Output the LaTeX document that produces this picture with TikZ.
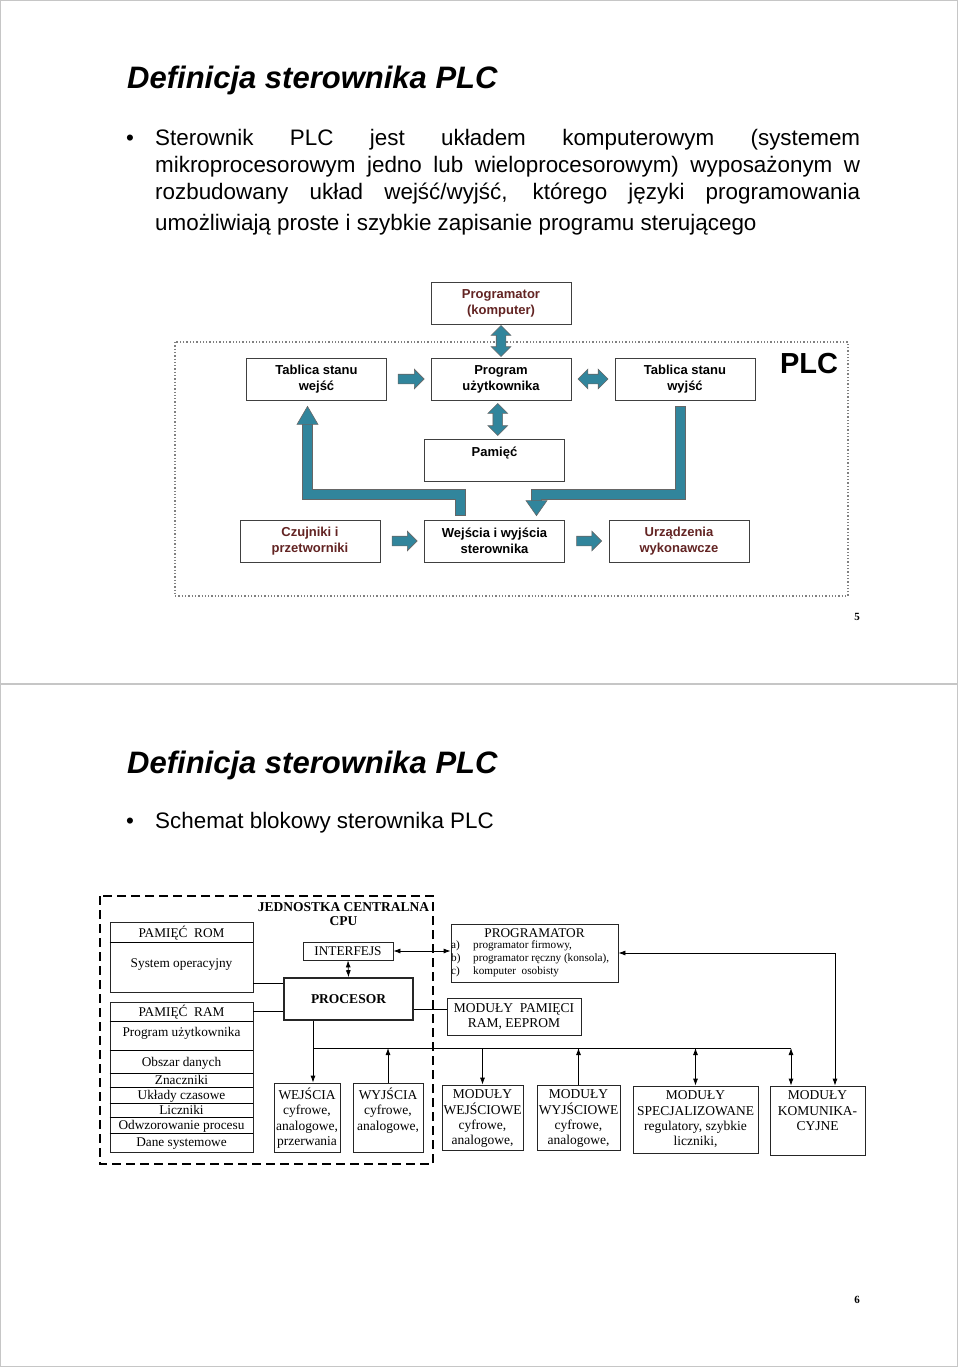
\documentclass[tikz,border=0pt]{standalone}
\usepackage{fontspec}
\setmainfont{Liberation Serif}
\setsansfont{Liberation Sans}
\usetikzlibrary{arrows.meta}
\usetikzlibrary{shapes.arrows}
\usetikzlibrary{calc}
\definecolor{morski}{HTML}{31859C}
\definecolor{bordo}{HTML}{632423}
\tikzset{>={Latex[length=7pt,width=5pt]}}
\tikzset{
  blok/.style={draw=black!75, line width=0.8pt, fill=white, minimum width=140pt, minimum height=42pt,
    align=center, inner sep=1pt, font=\sffamily\bfseries\fontsize{13}{16}\selectfont},
  strz/.style={single arrow, draw=black!60, line width=0.6pt, fill=morski, inner sep=4.5pt,
    single arrow head extend=5pt, minimum height=26pt},
  dstrz/.style={double arrow, draw=black!60, line width=0.6pt, fill=morski, inner sep=4.5pt,
    double arrow head extend=5pt, minimum height=31pt},
  pasek/.style={draw=black!60, double=morski, double distance=9.8pt, line width=0.6pt, line cap=rect},
  grot/.style={fill=morski, draw=black!60, line width=0.6pt},
  modul/.style={draw=black!85, line width=0.8pt, fill=white, inner sep=0pt},
  napis/.style={align=center, inner sep=2pt, font=\fontsize{13.5}{15.4}\selectfont},
  wiersz/.style={inner sep=0pt, text height=8.8pt, text depth=0pt, font=\fontsize{13.3}{15.4}\selectfont},
  male/.style={inner sep=0pt, font=\fontsize{11.2}{13}\selectfont},
  tytul/.style={anchor=base west, inner sep=0pt, font=\sffamily\bfseries\itshape\fontsize{31}{36}\selectfont},
  tekst/.style={anchor=base west, inner sep=0pt, font=\sffamily\fontsize{22.4}{27}\selectfont},
}

\begin{document}
\begin{tikzpicture}[x=1pt,y=-1pt]
        \useasboundingbox (0,0) rectangle (960,1367);
        \draw[gray!45] (0.5,0.5) rectangle (957.5,683);
        \draw[gray!45] (0.5,684.5) rectangle (957.5,1366.5);

        % strona 5
        \node[tytul] (t1) at (127,89) {Definicja sterownika PLC};
        \node[tekst, anchor=base] (k1) at (130,146) {\textbullet};
        \node[tekst] (w1) at (155,146) {\makebox[705pt][s]{Sterownik PLC jest układem komputerowym (systemem}};
        \node[tekst] (w2) at (155,173) {\makebox[705pt][s]{mikroprocesorowym jedno lub wieloprocesorowym) wyposażonym w}};
        \node[tekst] (w3) at (155,200) {\makebox[705pt][s]{rozbudowany układ wejść/wyjść, którego języki programowania}};
        \node[tekst] (w4) at (155,230) {umożliwiają proste i szybkie zapisanie programu sterującego};

        \draw[gray, dotted, line width=1.3pt] (175,342) rectangle (848,596);
        \node[blok, text=bordo] (progk) at (501,303) {Programator\\(komputer)};
        \node[blok] (tsw) at (316.5,379) {Tablica stanu\\wejść};
        \node[blok] (prg) at (501,379) {Program\\użytkownika};
        \node[blok] (tsy) at (685,379) {Tablica stanu\\wyjść};
        \node[blok] (pam) at (494.5,460) {Pamięć\\\mbox{}};
        \node[blok, text=bordo] (czu) at (310,541) {Czujniki i\\przetworniki};
        \node[blok] (wio) at (494.5,541) {Wejścia i wyjścia\\sterownika};
        \node[blok, text=bordo] (urz) at (679,541) {Urządzenia\\wykonawcze};
        \node[font=\sffamily\bfseries\fontsize{29}{30}\selectfont] (plc) at (809,364) {PLC};

        \node[dstrz, rotate=90] (a1) at ($(progk.south)!0.5!(prg.north)$) {};
        \node[strz] (a2) at ($(tsw.east)!0.5!(prg.west)$) {};
        \node[dstrz, minimum height=30pt] (a3) at ($(prg.east)!0.5!(tsy.west)$) {};
        \node[dstrz, rotate=90, minimum height=32pt] (a4) at ($(prg.south)!0.5!(pam.north)$) {};
        \node[strz, minimum height=25pt] (a5) at ($(czu.east)!0.5!(wio.west)$) {};
        \node[strz, minimum height=25pt] (a6) at ($(wio.east)!0.5!(urz.west)$) {};

        \coordinate (szyna) at (0,494.5);
        \coordinate (lg) at ([xshift=-9pt,yshift=-6pt]tsw.south);
        \coordinate (ld) at ([xshift=-34pt,yshift=4pt]wio.north);
        \coordinate (pg) at ([xshift=-4.5pt,yshift=-6pt]tsy.south);
        \coordinate (pd) at ([xshift=42pt,yshift=4pt]wio.north);
        \draw[pasek] ([yshift=5.5pt]ld) -- (ld |- szyna) -- (lg |- szyna) -- ([yshift=-18pt]lg);
        \filldraw[grot] (lg) -- ([xshift=-10.5pt,yshift=-18pt]lg) -- ([xshift=10.5pt,yshift=-18pt]lg) -- cycle;
        \draw[pasek] ([yshift=-5.5pt]pg) -- (pg |- szyna) -- (pd |- szyna) -- ([yshift=15pt]pd);
        \filldraw[grot] (pd) -- ([xshift=-10.5pt,yshift=15pt]pd) -- ([xshift=10.5pt,yshift=15pt]pd) -- cycle;

        \node[font=\bfseries\fontsize{11}{12}\selectfont] (nr5) at (857,617) {5};

        % strona 6
        \node[tytul] (t2) at (127,773) {Definicja sterownika PLC};
        \node[tekst, anchor=base] (k2) at (130,828) {\textbullet};
        \node[tekst] (w5) at (155,828) {Schemat blokowy sterownika PLC};

        \draw[line width=1.6pt, dash pattern=on 9pt off 5pt] (100,896) rectangle (433,1164);
        \node[align=center, inner sep=0pt, font=\bfseries\fontsize{13.5}{14}\selectfont] (jc) at (343.5,914)
          {JEDNOSTKA CENTRALNA\\CPU};

        \node[modul, minimum width=143pt, minimum height=70pt] (rom) at (181.5,957) {};
        \draw ([yshift=-21pt]rom.north west) -- ([yshift=-21pt]rom.north east);
        \node[wiersz] at ([yshift=-11pt]rom.north) {PAMIĘĆ\ \ ROM};
        \node[wiersz] at (181.5,963) {System operacyjny};

        \node[modul, minimum width=143pt, minimum height=150pt] (ram) at (181.5,1077) {};
        \foreach \y in {1021,1050,1073,1087,1103,1117,1133}
          \draw (ram.west |- 0,\y) -- (ram.east |- 0,\y);
        \foreach \y/\t in {1012/PAMIĘĆ\ \ RAM, 1032/Program użytkownika, 1062.5/Obszar danych, 1080/Znaczniki,
            1095/Układy czasowe, 1110/Liczniki, 1125.5/Odwzorowanie procesu, 1142/Dane systemowe}
          \node[wiersz] at (181.5,\y) {\t};

        \node[modul, wiersz, minimum width=90pt, minimum height=18pt] (int) at (348,951) {INTERFEJS};
        \node[modul, wiersz, line width=1.6pt, minimum width=129pt, minimum height=42pt,
          font=\bfseries\fontsize{13.5}{15.4}\selectfont] (proc) at (348.5,999) {PROCESOR};

        \node[modul, minimum width=167pt, minimum height=58pt] (prgm) at (534.5,953) {};
        \node[wiersz] at (534.5,933) {PROGRAMATOR};
        \foreach \y/\l/\t in {946/a)/{programator firmowy,}, 959/b)/{programator ręczny (konsola),},
            972/c)/{komputer\ \ osobisty}}{
          \node[male, anchor=west] at (451,\y) {\l};
          \node[male, anchor=west] at (473,\y) {\t};
        }
        \node[modul, napis, minimum width=134pt, minimum height=37pt] (mpam) at (514,1016.5)
          {MODUŁY\ \ PAMIĘCI\\RAM, EEPROM};

        \node[modul, minimum width=66pt, minimum height=69pt] (wej) at (307,1117.5) {};
        \node[napis, below=3pt] at (wej.north) {WEJŚCIA\\cyfrowe,\\analogowe,\\przerwania};
        \node[modul, minimum width=70pt, minimum height=69pt] (wyj) at (388,1117.5) {};
        \node[napis, below=3pt] at (wyj.north) {WYJŚCIA\\cyfrowe,\\analogowe,};
        \node[modul, minimum width=81pt, minimum height=65pt] (mwe) at (482.5,1117.5) {};
        \node[napis, below=3pt] at (mwe.north) {MODUŁY\\WEJŚCIOWE\\cyfrowe,\\analogowe,};
        \node[modul, minimum width=83pt, minimum height=65pt] (mwy) at (578.5,1117.5) {};
        \node[napis, below=3pt] at (mwy.north) {MODUŁY\\WYJŚCIOWE\\cyfrowe,\\analogowe,};
        \node[modul, minimum width=125pt, minimum height=67pt] (msp) at (695.5,1119.5) {};
        \node[napis, below=3pt] at (msp.north) {MODUŁY\\SPECJALIZOWANE\\regulatory, szybkie\\liczniki,};
        \node[modul, minimum width=95pt, minimum height=69pt] (mko) at (817.5,1120.5) {};
        \node[napis, below=3pt] at (mko.north) {MODUŁY\\KOMUNIKA-\\CYJNE};

        \coordinate (b1) at (313,1048);
        \coordinate (b2) at (791,1048);
        \begin{scope}[line width=0.8pt]
        \draw ([yshift=9pt]rom.south east) -- ([yshift=9pt]rom.south east -| proc.west);
        \draw ([yshift=-10pt]ram.north east) -- ([yshift=-10pt]ram.north east -| proc.west);
        \draw ([yshift=-10pt]proc.east) -- ([yshift=-10pt]proc.east -| mpam.west);
        \draw[<->] (int.south) -- (proc.north);
        \draw[<->] (int.east) -- (int.east -| prgm.west);
        \draw[<->] (prgm.east) -| ([xshift=17.5pt]mko.north);
        \draw (b1) -- (b2);
        \draw[->] (b1 |- proc.south) -- (b1 |- wej.north);
        \draw[->] (wyj.north) -- (wyj.north |- b1);
        \draw[->] (b1 -| mwe.north) -- (mwe.north);
        \draw[->] (mwy.north) -- (mwy.north |- b1);
        \draw[<->] (b1 -| msp.north) -- (msp.north);
        \draw[<->] (b2) -- (b2 |- mko.north);
        \end{scope}

        \node[font=\bfseries\fontsize{11}{12}\selectfont] (nr6) at (857,1300) {6};
\end{tikzpicture}
\end{document}
